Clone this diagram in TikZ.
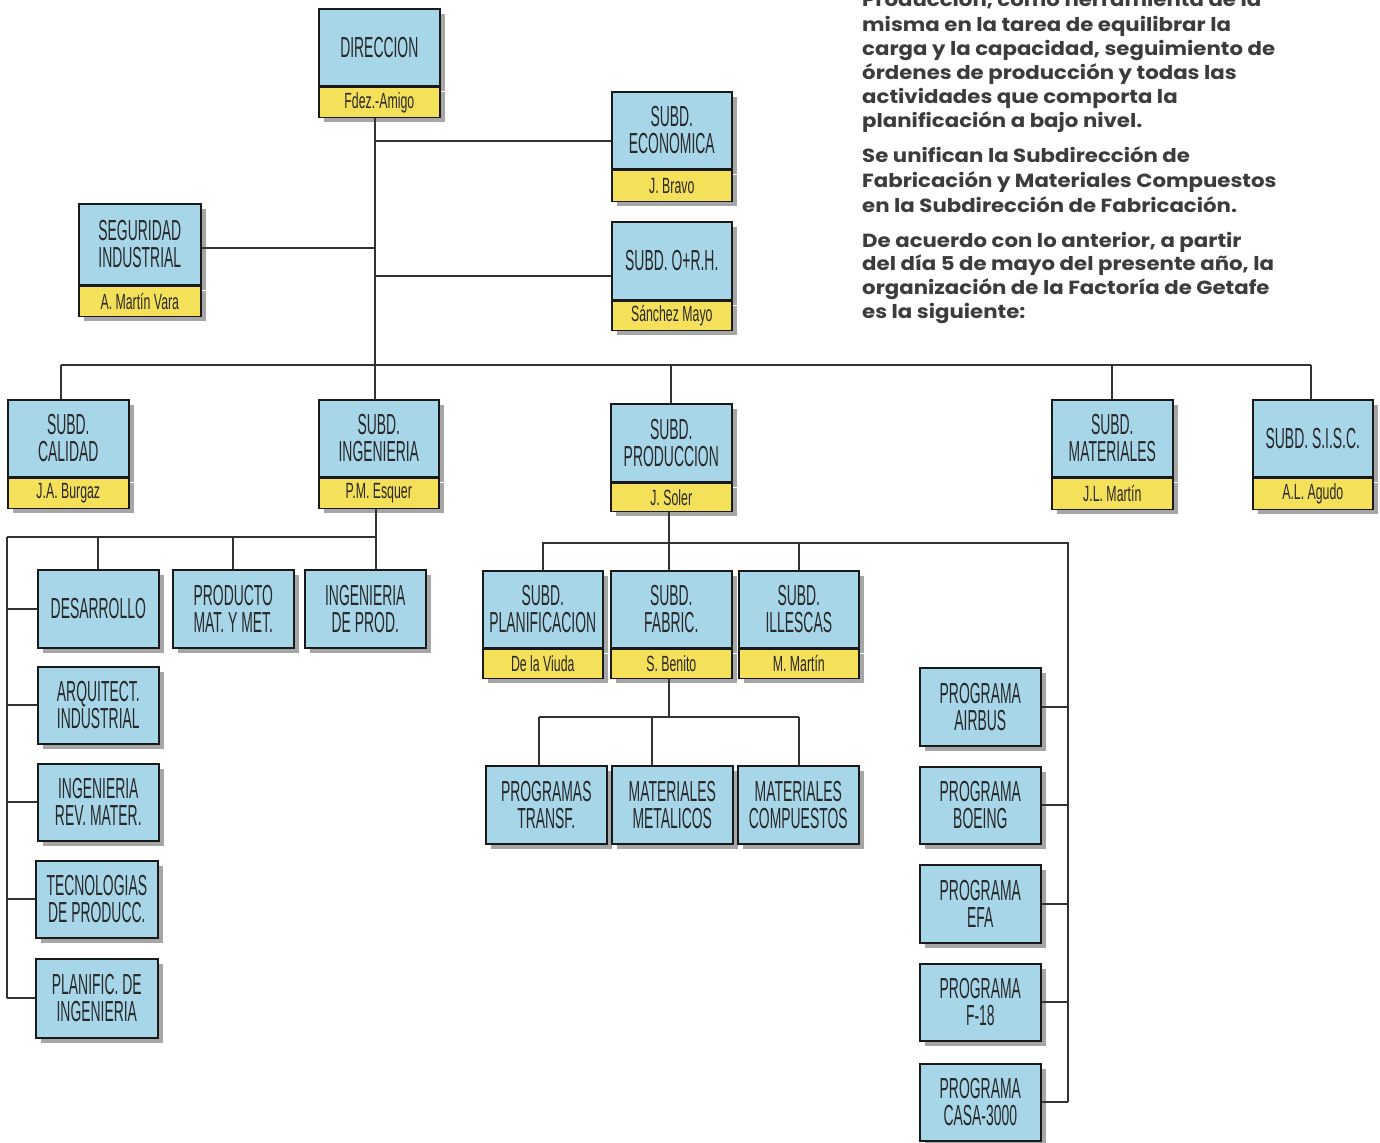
\documentclass[tikz,border=0pt]{standalone}
\usepackage{fontspec}
\usetikzlibrary{shadows}
\newfontfamily\condT[FakeStretch=0.48]{Liberation Sans}
\newfontfamily\condN[FakeStretch=0.56]{Liberation Sans}
\newfontfamily\bodyf[FakeStretch=1.12]{Poppins}
\definecolor{cblue}{RGB}{166,214,231}
\definecolor{cyel}{RGB}{245,224,90}
\definecolor{ctxt}{RGB}{40,40,40}
\definecolor{cline}{RGB}{50,50,50}
\definecolor{cbody}{RGB}{60,60,60}
\tikzset{
 shad/.style={drop shadow={shadow xshift=5pt, shadow yshift=-5pt, fill=black!35, opacity=1}},
 bbox/.style={draw=black!90, line width=1.6pt, fill=cblue, inner sep=0pt, align=center, text=ctxt, anchor=north west, shad, font=\condT\fontsize{29}{27}\selectfont},
 ybox/.style={draw=black!90, line width=1.6pt, fill=cyel, inner sep=0pt, text=ctxt, anchor=north west, shad, font=\condN\fontsize{22}{22}\selectfont},
 conn/.style={draw=cline, line width=1.8pt},
 body/.style={anchor=base west, inner sep=0pt, text=cbody, font=\bodyf\bfseries\fontsize{19}{24}\selectfont}
}
\newcommand\tbox[8]{%
 \node[bbox, minimum width={#4-#2}, minimum height={#5-#3}] (#1) at (#2,#3) {#7};
 \node[ybox, minimum width={#4-#2}, minimum height={#6-#5}] (#1n) at (#1.south west) {#8};}
\newcommand\pbox[6]{%
 \node[bbox, minimum width={#4-#2}, minimum height={#5-#3}] (#1) at (#2,#3) {#6};}
\begin{document}
\begin{tikzpicture}[x=1pt,y=-1pt]
\useasboundingbox (0,0) rectangle (1380,1142);
\clip (0,0) rectangle (1380,1142);
% text block
\node[body] (t1) at (862,7) {Producción, como herramienta de la};
\node[body] (t2) at (862,32) {misma en la tarea de equilibrar la};
\node[body] (t3) at (862,56) {carga y la capacidad, seguimiento de};
\node[body] (t4) at (862,80) {órdenes de producción y todas las};
\node[body] (t5) at (862,104) {actividades que comporta la};
\node[body] (t6) at (862,128) {planificación a bajo nivel.};
\node[body] (t7) at (862,163) {Se unifican la Subdirección de};
\node[body] (t8) at (862,187) {Fabricación y Materiales Compuestos};
\node[body] (t9) at (862,212) {en la Subdirección de Fabricación.};
\node[body] (t10) at (862,247) {De acuerdo con lo anterior, a partir};
\node[body] (t11) at (862,270) {del día 5 de mayo del presente año, la};
\node[body] (t12) at (862,294) {organización de la Factoría de Getafe};
\node[body] (t13) at (862,318) {es la siguiente:};
% boxes
\tbox{dir}{318}{8}{439}{85}{115}{DIRECCION}{Fdez.-Amigo}
\tbox{eco}{611}{91}{731}{168}{199}{SUBD.\\ECONOMICA}{J. Bravo}
\tbox{orh}{611}{221}{731}{299}{328}{SUBD. O+R.H.}{Sánchez Mayo}
\tbox{seg}{78}{203}{200}{284}{314}{SEGURIDAD\\INDUSTRIAL}{A. Martín Vara}
\tbox{cal}{7}{399}{128}{476}{506}{SUBD.\\CALIDAD}{J.A. Burgaz}
\tbox{ing}{318}{399}{438}{476}{506}{SUBD.\\INGENIERIA}{P.M. Esquer}
\tbox{pro}{610}{403}{731}{481}{509}{SUBD.\\PRODUCCION}{J. Soler}
\tbox{mat}{1051}{399}{1172}{476}{507}{SUBD.\\MATERIALES}{J.L. Martín}
\tbox{sis}{1252}{399}{1372}{476}{507}{SUBD. S.I.S.C.}{A.L. Agudo}
\tbox{pla}{482}{570}{602}{647}{676}{SUBD.\\PLANIFICACION}{De la Viuda}
\tbox{fab}{610}{570}{731}{647}{676}{SUBD.\\FABRIC.}{S. Benito}
\tbox{ill}{738}{570}{858}{647}{676}{SUBD.\\ILLESCAS}{M. Martín}
\pbox{des}{37}{569}{158}{647}{DESARROLLO}
\pbox{prd}{172}{569}{293}{647}{PRODUCTO\\MAT. Y MET.}
\pbox{idp}{304}{569}{425}{647}{INGENIERIA\\DE PROD.}
\pbox{arq}{37}{666}{158}{743}{ARQUITECT.\\INDUSTRIAL}
\pbox{irm}{37}{763}{158}{840}{INGENIERIA\\REV. MATER.}
\pbox{tec}{35}{860}{157}{937}{TECNOLOGIAS\\DE PRODUCC.}
\pbox{pif}{35}{958}{157}{1037}{PLANIFIC. DE\\INGENIERIA}
\pbox{ptr}{485}{765}{606}{843}{PROGRAMAS\\TRANSF.}
\pbox{met}{611}{765}{732}{843}{MATERIALES\\METALICOS}
\pbox{com}{737}{765}{858}{843}{MATERIALES\\COMPUESTOS}
\pbox{air}{919}{667}{1040}{745}{PROGRAMA\\AIRBUS}
\pbox{boe}{919}{766}{1040}{843}{PROGRAMA\\BOEING}
\pbox{efa}{919}{864}{1040}{942}{PROGRAMA\\EFA}
\pbox{f18}{919}{963}{1040}{1040}{PROGRAMA\\F-18}
\pbox{cas}{919}{1063}{1040}{1140}{PROGRAMA\\CASA-3000}
% junction coordinates
\coordinate (m0) at (375,141);
\coordinate (m1) at (375,248);
\coordinate (m2) at (375,276);
\coordinate (mb) at (375,365);
\coordinate (bl) at (61,365);
\coordinate (br) at (1311,365);
\coordinate (ib) at (376,537);
\coordinate (il) at (7,537);
\coordinate (pb) at (669,543);
\coordinate (pr) at (1068,543);
\coordinate (fb) at (669,717);
\coordinate (f1) at (539,717);
\coordinate (f2) at (652,717);
\coordinate (f3) at (799,717);
% connectors
\draw[conn] (dirn.south -| mb) -- (mb);
\draw[conn] (m0) -- (m0 -| eco.west);
\draw[conn] (m1) -- (m1 -| seg.east);
\draw[conn] (m2) -- (m2 -| orh.west);
\draw[conn] (bl) -- (br);
\draw[conn] (bl) -- (bl |- cal.north);
\draw[conn] (mb) -- (mb |- ing.north);
\draw[conn] (pro.north) -- (pro.north |- mb);
\draw[conn] (mat.north) -- (mat.north |- mb);
\draw[conn] (br) -- (br |- sis.north);
% ingenieria
\draw[conn] (ingn.south -| ib) -- (ib |- idp.north);
\draw[conn] (il) -- (ib);
\draw[conn] (des.north) -- (des.north |- il);
\draw[conn] (prd.north) -- (prd.north |- il);
\draw[conn] (il) -- (il |- pif.west);
\draw[conn] (il |- des.west) -- (des.west);
\draw[conn] (il |- arq.west) -- (arq.west);
\draw[conn] (il |- irm.west) -- (irm.west);
\draw[conn] (il |- tec.west) -- (tec.west);
\draw[conn] (il |- pif.west) -- (pif.west);
% produccion
\draw[conn] (pron.south -| pb) -- (pb);
\draw[conn] (pla.north) -- (pla.north |- pb) -- (pr) -- (pr |- cas.east);
\draw[conn] (fab.north -| pb) -- (pb);
\draw[conn] (ill.north) -- (ill.north |- pb);
\draw[conn] (air.east) -- (air.east -| pr);
\draw[conn] (boe.east) -- (boe.east -| pr);
\draw[conn] (efa.east) -- (efa.east -| pr);
\draw[conn] (f18.east) -- (f18.east -| pr);
\draw[conn] (cas.east) -- (cas.east -| pr);
% fabric
\draw[conn] (fabn.south -| fb) -- (fb);
\draw[conn] (f1) -- (f3);
\draw[conn] (f1) -- (f1 |- ptr.north);
\draw[conn] (f2) -- (f2 |- met.north);
\draw[conn] (f3) -- (f3 |- com.north);
\end{tikzpicture}
\end{document}
